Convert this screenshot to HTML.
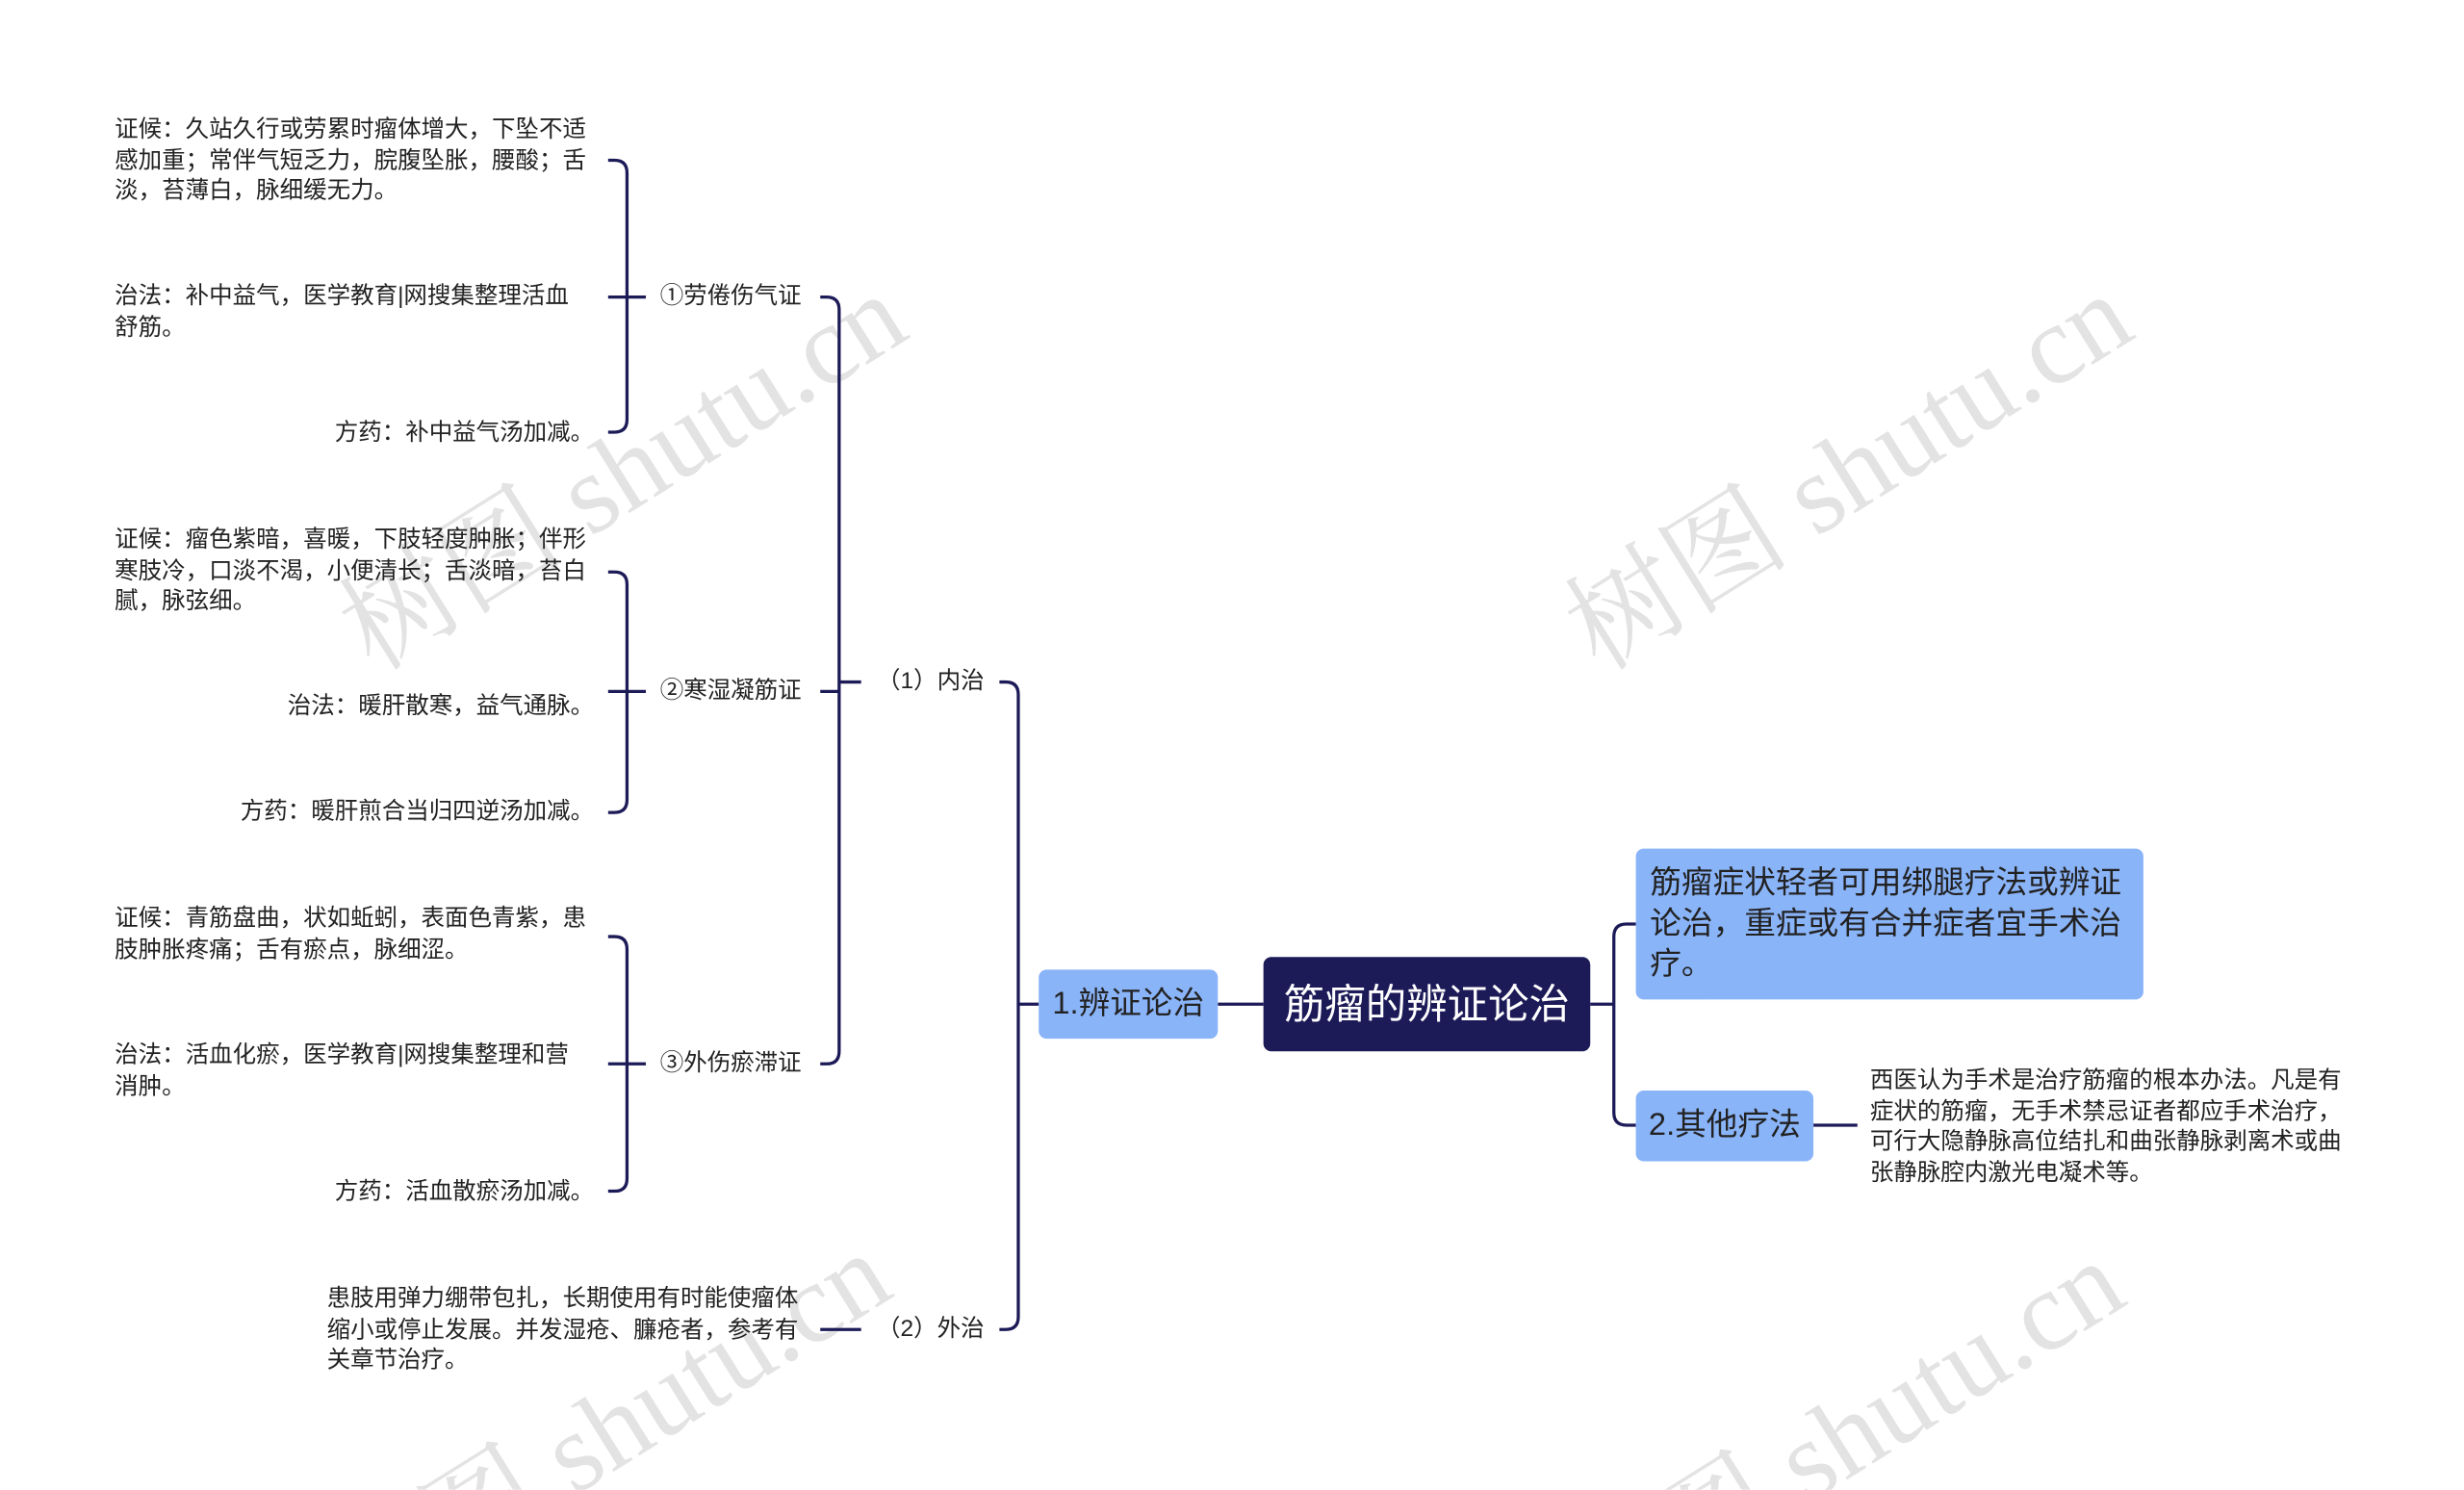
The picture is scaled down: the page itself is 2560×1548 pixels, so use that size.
<!DOCTYPE html>
<html><head><meta charset="utf-8"><style>
html,body{margin:0;padding:0;background:#fff;width:2560px;height:1548px;overflow:hidden}
#w{position:absolute;left:0;top:0;width:1568px;height:948px;transform:scale(1.63265);transform-origin:0 0;font-family:"Liberation Sans","Noto Sans CJK SC",sans-serif;color:#222;overflow:hidden}
.t{position:absolute;font-size:15px;line-height:19.5px;white-space:nowrap}
.r{text-align:right}
.n{position:absolute;box-sizing:border-box;border-radius:5px}
</style></head><body><div id="w">
<svg width="1568" height="948" style="position:absolute;left:0;top:0;overflow:hidden">
<g font-family="Liberation Serif, Noto Serif CJK SC, serif" font-size="72" fill="#e3e3e3">
<text x="238" y="428" transform="rotate(-32 238 428)">树图 shutu.cn</text>
<text x="1018" y="428" transform="rotate(-32 1018 428)">树图 shutu.cn</text>
<text x="228" y="1038" transform="rotate(-32 228 1038)">树图 shutu.cn</text>
<text x="1013" y="1043" transform="rotate(-32 1013 1043)">树图 shutu.cn</text>
</g>
<g fill="none" stroke="#1c1a57" stroke-width="2">
<path d="M775 639 H804"/>
<path d="M661 639 H648"/>
<path d="M636 434 H640 Q648 434 648 442 V838 Q648 846 640 846 H636"/>
<path d="M548 434 H534"/>
<path d="M522 189 H526 Q534 189 534 197 V669 Q534 677 526 677 H522"/>
<path d="M534 440 H522"/>
<path d="M548 846 H522"/>
<path d="M411 189 H387"/>
<path d="M387 102 H391 Q399 102 399 110 V267 Q399 275 391 275 H387"/>
<path d="M411 440 H387"/>
<path d="M387 364 H391 Q399 364 399 372 V509 Q399 517 391 517 H387"/>
<path d="M411 677 H387"/>
<path d="M387 596 H391 Q399 596 399 604 V750 Q399 758 391 758 H387"/>
<path d="M1012 639 H1027"/>
<path d="M1041 588 H1035 Q1027 588 1027 596 V708 Q1027 716 1035 716 H1041"/>
<path d="M1154 716 H1182"/>
</g>
</svg>

<div class="n" style="left:804px;top:609px;width:208px;height:60px;background:#1c1a57;color:#fff;font-size:26px;line-height:60px;text-align:center">筋瘤的辨证论治</div>
<div class="n" style="left:661px;top:617px;width:114px;height:44px;background:#8ab4f8;color:#222;font-size:20px;line-height:44px;text-align:center">1.辨证论治</div>
<div class="n" style="left:1041px;top:540px;width:323px;height:96px;background:#8ab4f8;color:#222;font-size:20px;line-height:26px;padding:9px 9px">筋瘤症状轻者可用绑腿疗法或辨证<br>论治，重症或有合并症者宜手术治<br>疗。</div>
<div class="n" style="left:1041px;top:694px;width:113px;height:45px;background:#8ab4f8;color:#222;font-size:20px;line-height:45px;text-align:center">2.其他疗法</div>

<div class="t" style="left:1190px;top:678px">西医认为手术是治疗筋瘤的根本办法。凡是有<br>症状的筋瘤，无手术禁忌证者都应手术治疗，<br>可行大隐静脉高位结扎和曲张静脉剥离术或曲<br>张静脉腔内激光电凝术等。</div>

<div class="t" style="left:558px;top:424px">（1）内治</div>
<div class="t" style="left:558px;top:836px">（2）外治</div>
<div class="t" style="left:420px;top:179px">①劳倦伤气证</div>
<div class="t" style="left:420px;top:430px">②寒湿凝筋证</div>
<div class="t" style="left:420px;top:667px">③外伤瘀滞证</div>

<div class="t" style="left:73px;top:73px">证候：久站久行或劳累时瘤体增大，下坠不适<br>感加重；常伴气短乏力，脘腹坠胀，腰酸；舌<br>淡，苔薄白，脉细缓无力。</div>
<div class="t" style="left:73px;top:179px">治法：补中益气，医学教育|网搜集整理活血<br>舒筋。</div>
<div class="t r" style="right:1190px;top:266px">方药：补中益气汤加减。</div>

<div class="t" style="left:73px;top:334px">证候：瘤色紫暗，喜暖，下肢轻度肿胀；伴形<br>寒肢冷，口淡不渴，小便清长；舌淡暗，苔白<br>腻，脉弦细。</div>
<div class="t r" style="right:1190px;top:440px">治法：暖肝散寒，益气通脉。</div>
<div class="t r" style="right:1190px;top:507px">方药：暖肝煎合当归四逆汤加减。</div>

<div class="t" style="left:73px;top:575px">证候：青筋盘曲，状如蚯蚓，表面色青紫，患<br>肢肿胀疼痛；舌有瘀点，脉细涩。</div>
<div class="t" style="left:73px;top:662px">治法：活血化瘀，医学教育|网搜集整理和营<br>消肿。</div>
<div class="t r" style="right:1190px;top:749px">方药：活血散瘀汤加减。</div>

<div class="t" style="left:208px;top:817px">患肢用弹力绷带包扎，长期使用有时能使瘤体<br>缩小或停止发展。并发湿疮、臁疮者，参考有<br>关章节治疗。</div>
</div></body></html>
